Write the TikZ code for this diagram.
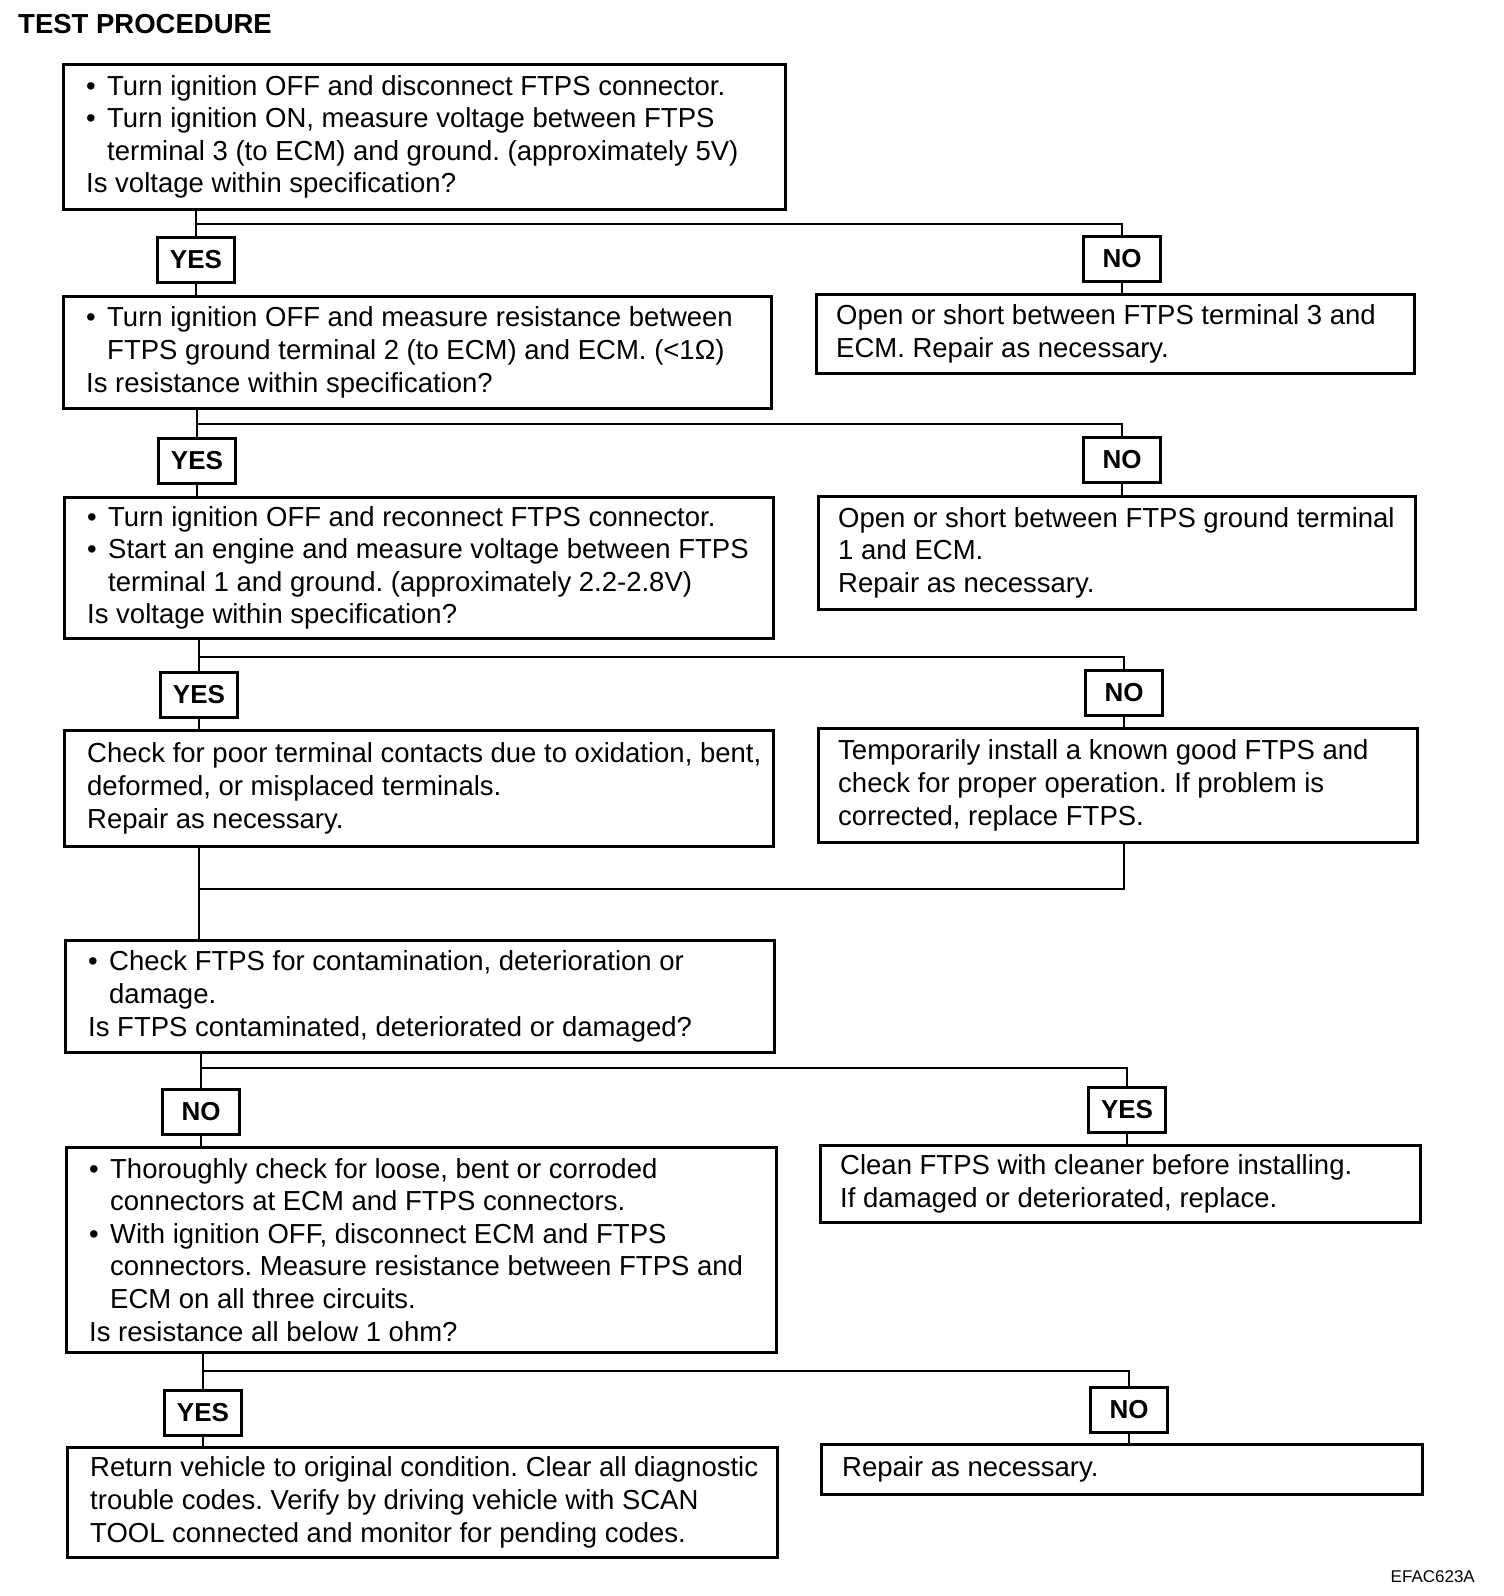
\documentclass[tikz,border=0pt]{standalone}
\usepackage{fontspec}
\setmainfont{Liberation Sans}
\frenchspacing
\newcommand\bl{\makebox[21bp][l]{\textbullet}}
\newcommand\hi{\hspace*{21bp}}
\tikzset{
 box/.style={draw, line width=2.6bp, anchor=north west, inner sep=0pt},
 txt/.style={anchor=west, align=left, inner sep=0pt, font=\fontsize{27.5bp}{32.6bp}\selectfont\frenchspacing},
 lab/.style={draw, line width=2.6bp, inner sep=0pt, minimum width=77bp, minimum height=45bp, font=\fontsize{26bp}{30bp}\selectfont\bfseries, fill=white},
 wire/.style={line width=2.4bp},
}
\begin{document}
\begin{tikzpicture}[x=1bp,y=-1bp]
\useasboundingbox (0,0) rectangle (1504,1596);
\node[anchor=west, inner sep=0pt, font=\fontsize{27.5bp}{30bp}\selectfont\bfseries] (title) at (18,24.5) {TEST PROCEDURE};
\node[anchor=east, inner sep=0pt, font=\fontsize{17bp}{20bp}\selectfont] (code) at (1475,1577) {EFAC623A};

% boxes
\node[box, minimum width=722bp, minimum height=145bp] (b1) at (62,63) {};
\node[txt] (t1) at ([xshift=24bp]b1.west) {\bl Turn ignition OFF and disconnect FTPS connector.\\
\bl Turn ignition ON, measure voltage between FTPS\\
\hi terminal 3 (to ECM) and ground. (approximately 5V)\\
Is voltage within specification?};

\node[box, minimum width=708bp, minimum height=112bp] (b2) at (62,295) {};
\node[txt] (t2) at ([xshift=24bp]b2.west) {\bl Turn ignition OFF and measure resistance between\\
\hi FTPS ground terminal 2 (to ECM) and ECM. (<1Ω)\\
Is resistance within specification?};

\node[box, minimum width=598bp, minimum height=79bp] (b2r) at (815,293) {};
\node[txt] (t2r) at ([xshift=21bp]b2r.west) {Open or short between FTPS terminal 3 and\\
ECM. Repair as necessary.};

\node[box, minimum width=709bp, minimum height=141bp] (b3) at (63,496) {};
\node[txt] (t3) at ([xshift=24bp]b3.west) {\bl Turn ignition OFF and reconnect FTPS connector.\\
\bl Start an engine and measure voltage between FTPS\\
\hi terminal 1 and ground. (approximately 2.2-2.8V)\\
Is voltage within specification?};

\node[box, minimum width=597bp, minimum height=113bp] (b3r) at (817,495) {};
\node[txt] (t3r) at ([xshift=21bp]b3r.west) {Open or short between FTPS ground terminal\\
1 and ECM.\\
Repair as necessary.};

\node[box, minimum width=709bp, minimum height=116bp] (b4) at (63,729) {};
\node[txt] (t4) at ([xshift=24bp]b4.west) {Check for poor terminal contacts due to oxidation, bent,\\
deformed, or misplaced terminals.\\
Repair as necessary.};

\node[box, minimum width=599bp, minimum height=114bp] (b4r) at (817,727) {};
\node[txt] (t4r) at ([xshift=21bp]b4r.west) {Temporarily install a known good FTPS and\\
check for proper operation. If problem is\\
corrected, replace FTPS.};

\node[box, minimum width=709bp, minimum height=112bp] (b5) at (64,939) {};
\node[txt] (t5) at ([xshift=24bp]b5.west) {\bl Check FTPS for contamination, deterioration or\\
\hi damage.\\
Is FTPS contaminated, deteriorated or damaged?};

\node[box, minimum width=710bp, minimum height=205bp] (b6) at (65,1146) {};
\node[txt] (t6) at ([xshift=24bp]b6.west) {\bl Thoroughly check for loose, bent or corroded\\
\hi connectors at ECM and FTPS connectors.\\
\bl With ignition OFF, disconnect ECM and FTPS\\
\hi connectors. Measure resistance between FTPS and\\
\hi ECM on all three circuits.\\
Is resistance all below 1 ohm?};

\node[box, minimum width=600bp, minimum height=77bp] (b6r) at (819,1144) {};
\node[txt] (t6r) at ([xshift=21bp]b6r.west) {Clean FTPS with cleaner before installing.\\
If damaged or deteriorated, replace.};

\node[box, minimum width=710bp, minimum height=110bp] (b7) at (66,1446) {};
\node[txt] (t7) at ([xshift=24bp]b7.west) {Return vehicle to original condition. Clear all diagnostic\\
trouble codes. Verify by driving vehicle with SCAN\\
TOOL connected and monitor for pending codes.};

\node[box, minimum width=601bp, minimum height=50bp] (b7r) at (820,1443) {};
\node[txt] (t7r) at ([xshift=22bp]b7r.west) {Repair as necessary.};

% labels
\node[lab] (yes1) at (196,260) {YES};
\node[lab] (no1) at (1122,259) {NO};
\node[lab] (yes2) at (197,461) {YES};
\node[lab] (no2) at (1122,460) {NO};
\node[lab] (yes3) at (199,695) {YES};
\node[lab] (no3) at (1124,693) {NO};
\node[lab] (no5) at (201,1112) {NO};
\node[lab] (yes5) at (1127,1110) {YES};
\node[lab] (yes6) at (203,1413) {YES};
\node[lab] (no6) at (1129,1410) {NO};

\coordinate (j1) at (196,224);
\coordinate (j2) at (197,424);
\coordinate (j3) at (199,657);
\coordinate (m1) at (199,889);
\coordinate (m2) at (1124,889);
\coordinate (j5) at (201,1068);
\coordinate (j6) at (203,1371);

% section 1
\draw[wire] (b1.south -| yes1) -- (yes1.north);
\draw[wire] (yes1.south) -- (b2.north -| yes1);
\draw[wire] (j1) -- (j1 -| no1) -- (no1.north);
\draw[wire] (no1.south) -- (b2r.north -| no1);
% section 2
\draw[wire] (b2.south -| yes2) -- (yes2.north);
\draw[wire] (yes2.south) -- (b3.north -| yes2);
\draw[wire] (j2) -- (j2 -| no2) -- (no2.north);
\draw[wire] (no2.south) -- (b3r.north -| no2);
% section 3
\draw[wire] (b3.south -| yes3) -- (yes3.north);
\draw[wire] (yes3.south) -- (b4.north -| yes3);
\draw[wire] (j3) -- (j3 -| no3) -- (no3.north);
\draw[wire] (no3.south) -- (b4r.north -| no3);
% merge
\draw[wire] (b4.south -| m1) -- (b5.north -| m1);
\draw[wire] (b4r.south -| m2) -- (m2) -- (m1);
% section 5
\draw[wire] (b5.south -| no5) -- (no5.north);
\draw[wire] (no5.south) -- (b6.north -| no5);
\draw[wire] (j5) -- (j5 -| yes5) -- (yes5.north);
\draw[wire] (yes5.south) -- (b6r.north -| yes5);
% section 6
\draw[wire] (b6.south -| yes6) -- (yes6.north);
\draw[wire] (yes6.south) -- (b7.north -| yes6);
\draw[wire] (j6) -- (j6 -| no6) -- (no6.north);
\draw[wire] (no6.south) -- (b7r.north -| no6);
\end{tikzpicture}
\end{document}
